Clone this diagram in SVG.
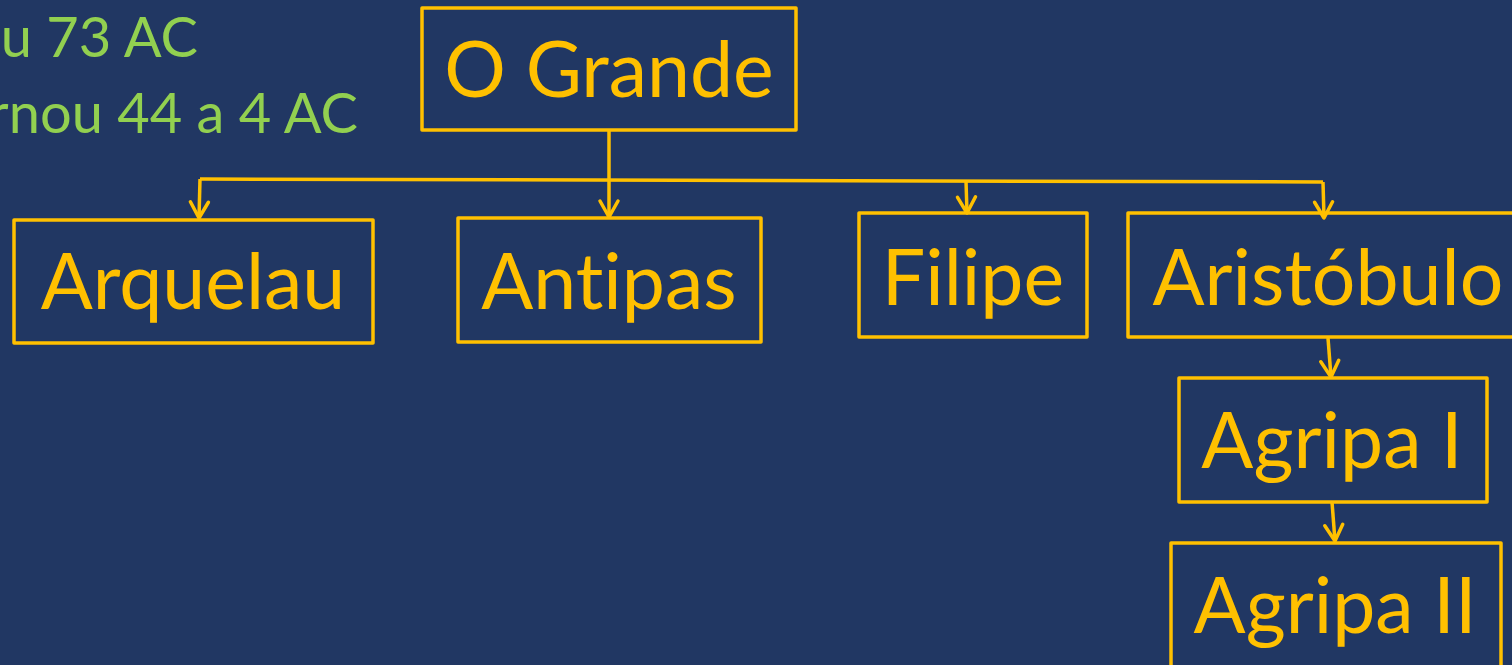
<svg xmlns="http://www.w3.org/2000/svg" width="1512" height="665" viewBox="0 0 1512 665">
<style>
.box{fill:none;stroke:#FFC000;stroke-width:3.5;stroke-linejoin:round}
.lbl{font-family:Lato,"Open Sans",sans-serif;fill:#FFC000;text-anchor:middle;font-variant-ligatures:none}
.note{font-family:Lato,"Open Sans",sans-serif;fill:#92D050;font-size:56px;text-anchor:end}
.conn{fill:none;stroke:#FFC000;stroke-width:3.5;stroke-linejoin:round}
</style>
<defs>
<marker id="arr" markerUnits="userSpaceOnUse" viewBox="-20 -12 24 24" refX="0" refY="0" markerWidth="24" markerHeight="24" orient="auto">
<path d="M-16,-9 L0,0 L-16,9" fill="none" stroke="#FFC000" stroke-width="3.5" stroke-linecap="round" stroke-linejoin="round"/>
</marker>
</defs>
<rect width="1512" height="665" fill="#213763"/>
<text class="note" x="198" y="57">u 73 AC</text>
<text class="note" x="358" y="133">rnou 44 a 4 AC</text>
<g id="connectors">
<path class="conn" d="M609,130 L609,217" marker-end="url(#arr)"/>
<path class="conn" d="M200,179 L1323,182"/>
<path class="conn" d="M200,179 L199,218" marker-end="url(#arr)"/>
<path class="conn" d="M966,181 L967,213" marker-end="url(#arr)"/>
<path class="conn" d="M1323,182 L1324,218" marker-end="url(#arr)"/>
<path class="conn" d="M1328,338 L1331,377" marker-end="url(#arr)"/>
<path class="conn" d="M1332,502 L1335,541" marker-end="url(#arr)"/>
</g>
<g id="o-grande"><rect class="box" x="422" y="8" width="374" height="122"/><text class="lbl" x="609" y="97" font-size="77">O Grande</text></g>
<g id="arquelau"><rect class="box" x="14" y="220" width="359" height="123"/><text class="lbl" x="193" y="309" font-size="77">Arquelau</text></g>
<g id="antipas"><rect class="box" x="458" y="218" width="303" height="124"/><text class="lbl" x="609" y="309" font-size="77">Antipas</text></g>
<g id="filipe"><rect class="box" x="859" y="213" width="228" height="124"/><text class="lbl" x="973" y="305" font-size="77">Filipe</text></g>
<g id="aristobulo"><rect class="box" x="1128" y="213" width="390" height="124"/><text class="lbl" x="1328" y="305" font-size="77">Aristóbulo</text></g>
<g id="agripa-1"><rect class="box" x="1179" y="378" width="308" height="124"/><text class="lbl" x="1332" y="468" font-size="77">Agripa I</text></g>
<g id="agripa-2"><rect class="box" x="1171" y="543" width="330" height="130"/><text class="lbl" x="1335" y="633" font-size="77">Agripa II</text></g>
</svg>
